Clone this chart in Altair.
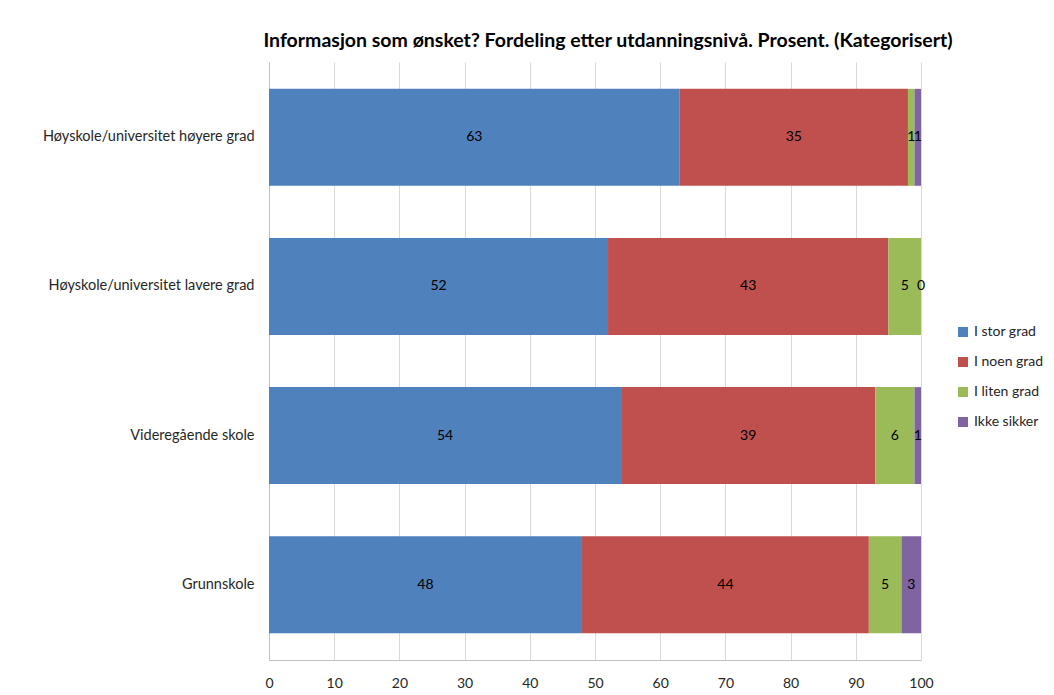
import altair as alt
import pandas as pd

categories = [
    "Høyskole/universitet høyere grad",
    "Høyskole/universitet lavere grad",
    "Videregående skole",
    "Grunnskole",
]
series = ["I stor grad", "I noen grad", "I liten grad", "Ikke sikker"]
colors = ["#4F81BD", "#C0504D", "#9BBB59", "#8064A2"]
values = {
    "I stor grad": [63, 52, 54, 48],
    "I noen grad": [35, 43, 39, 44],
    "I liten grad": [1, 5, 6, 5],
    "Ikke sikker": [1, 0, 1, 3],
}
x_ticks = [0, 10, 20, 30, 40, 50, 60, 70, 80, 90, 100]

rows = []
for si, s in enumerate(series):
    for ci, c in enumerate(categories):
        rows.append({"kategori": c, "serie": s, "verdi": values[s][ci], "rekkefolge": si})
df = pd.DataFrame(rows)

FONT = "Lato"
TXT = "#262626"

base = alt.Chart(df).transform_stack(
    stack="verdi",
    groupby=["kategori"],
    sort=[alt.SortField("rekkefolge", order="ascending")],
    as_=["x0", "x1"],
).transform_calculate(mid="(datum.x0 + datum.x1) / 2")

y_enc = alt.Y(
    "kategori:N",
    sort=categories,
    title=None,
    scale=alt.Scale(paddingInner=0.35, paddingOuter=0.18),
    axis=alt.Axis(
        labelFont=FONT, labelFontSize=14.5, labelColor=TXT, labelPadding=15,
        labelLimit=0, ticks=False, domain=True, domainColor="#BFBFBF", grid=False,
    ),
)

bars = base.mark_bar().encode(
    x=alt.X(
        "x0:Q",
        title=None,
        scale=alt.Scale(domain=[0, 100], nice=False),
        axis=alt.Axis(
            values=x_ticks, labelFont=FONT, labelFontSize=14, labelColor=TXT,
            ticks=False, labelPadding=16, domain=True, domainColor="#BFBFBF",
            grid=True, gridColor="#D9D9D9", labelFlush=False,
        ),
    ),
    x2="x1:Q",
    y=y_enc,
    color=alt.Color(
        "serie:N",
        sort=series,
        scale=alt.Scale(domain=series, range=colors),
        legend=alt.Legend(
            title=None, orient="none", legendX=687, legendY=263,
            symbolType="square", symbolSize=100, symbolStrokeWidth=0,
            labelFont=FONT, labelFontSize=14, labelColor=TXT,
            rowPadding=16, labelOffset=4, labelLimit=0,
        ),
    ),
    order=alt.Order("rekkefolge:Q"),
)

labels = base.mark_text(font=FONT, fontSize=14, color="#000000").encode(
    x=alt.X("mid:Q"),
    y=alt.Y("kategori:N", sort=categories),
    text=alt.Text("verdi:Q"),
)

chart = (
    alt.layer(bars, labels)
    .properties(
        width=652,
        height=598,
        autosize=alt.AutoSizeParams(type="none"),
        padding={"left": 261, "top": 54, "right": 124, "bottom": 31},
        title=alt.Title(
            "Informasjon som ønsket? Fordeling etter utdanningsnivå. Prosent. (Kategorisert)",
            font=FONT, fontSize=19.5, fontWeight="bold", color="#000000",
            anchor="middle", dx=13, offset=11,
        ),
    )
    .configure_view(stroke=None)
)

chart.save("out.html", embed_options={"renderer": "svg", "actions": False})
